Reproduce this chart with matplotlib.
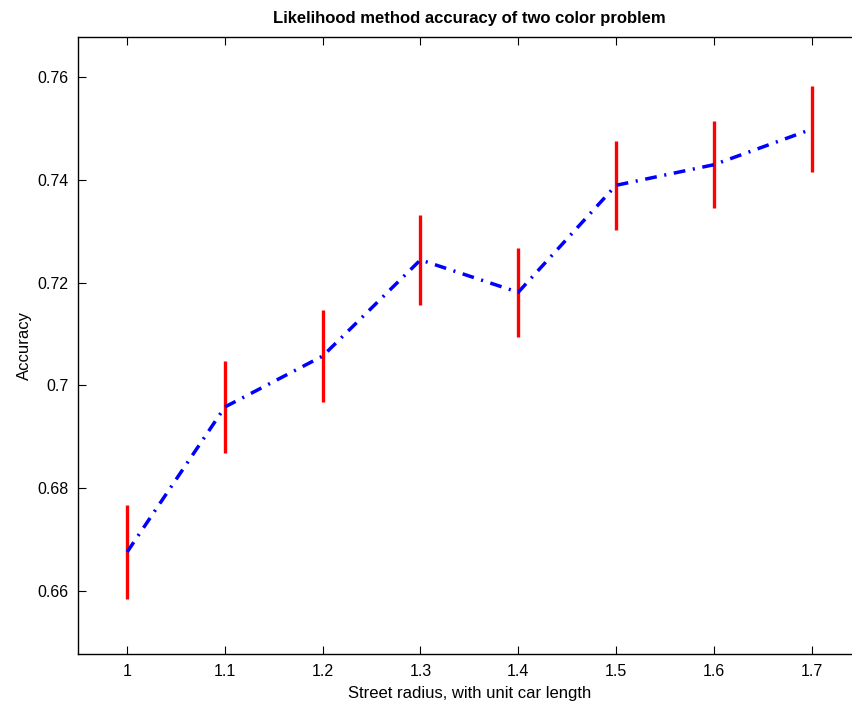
import matplotlib
matplotlib.use("Agg")
import matplotlib.pyplot as plt

plt.rcParams['font.family'] = ['Liberation Sans', 'DejaVu Sans']

radius = [1.0, 1.1, 1.2, 1.3, 1.4, 1.5, 1.6, 1.7]
accuracy = [0.6676, 0.6958, 0.7057, 0.7244, 0.7181, 0.7389, 0.7429, 0.7498]
err = [0.0091, 0.0089, 0.0089, 0.0087, 0.0087, 0.0086, 0.0085, 0.0084]
xticks = [1.0, 1.1, 1.2, 1.3, 1.4, 1.5, 1.6, 1.7]
xticklabels = ['1', '1.1', '1.2', '1.3', '1.4', '1.5', '1.6', '1.7']
yticks = [0.66, 0.68, 0.70, 0.72, 0.74, 0.76]
yticklabels = ['0.66', '0.68', '0.7', '0.72', '0.74', '0.76']

W, H = 852, 709
fig = plt.figure(figsize=(W / 100, H / 100), dpi=100)
left, right = 78.3, 860.4
top, bottom = 36.7, 654.3
ax = fig.add_axes([left / W, 1 - bottom / H, (right - left) / W, (bottom - top) / H])

ax.errorbar(radius, accuracy, yerr=err, fmt='none', ecolor='red',
            elinewidth=2.4, capsize=0, zorder=2)
ax.plot(radius, accuracy, color='blue', linewidth=2.5,
        dashes=[3.4, 2.2, 0.6, 2.2], zorder=3)

ax.set_xlim(0.95, 1.75)
ax.set_ylim(0.6477, 0.7678)
ax.set_xticks(xticks)
ax.set_xticklabels(xticklabels)
ax.set_yticks(yticks)
ax.set_yticklabels(yticklabels)
ax.tick_params(direction='in', top=True, right=True, length=5.5, width=0.8,
               labelsize=11.5, pad=7)
for s in ax.spines.values():
    s.set_linewidth(1.0)

ax.set_xlabel('Street radius, with unit car length', fontsize=12, labelpad=5)
ax.set_ylabel('Accuracy', fontsize=12)
ax.set_title('Likelihood method accuracy of two color problem', fontsize=12,
             fontweight='bold', pad=10)

fig.savefig('out.png', dpi=100)
